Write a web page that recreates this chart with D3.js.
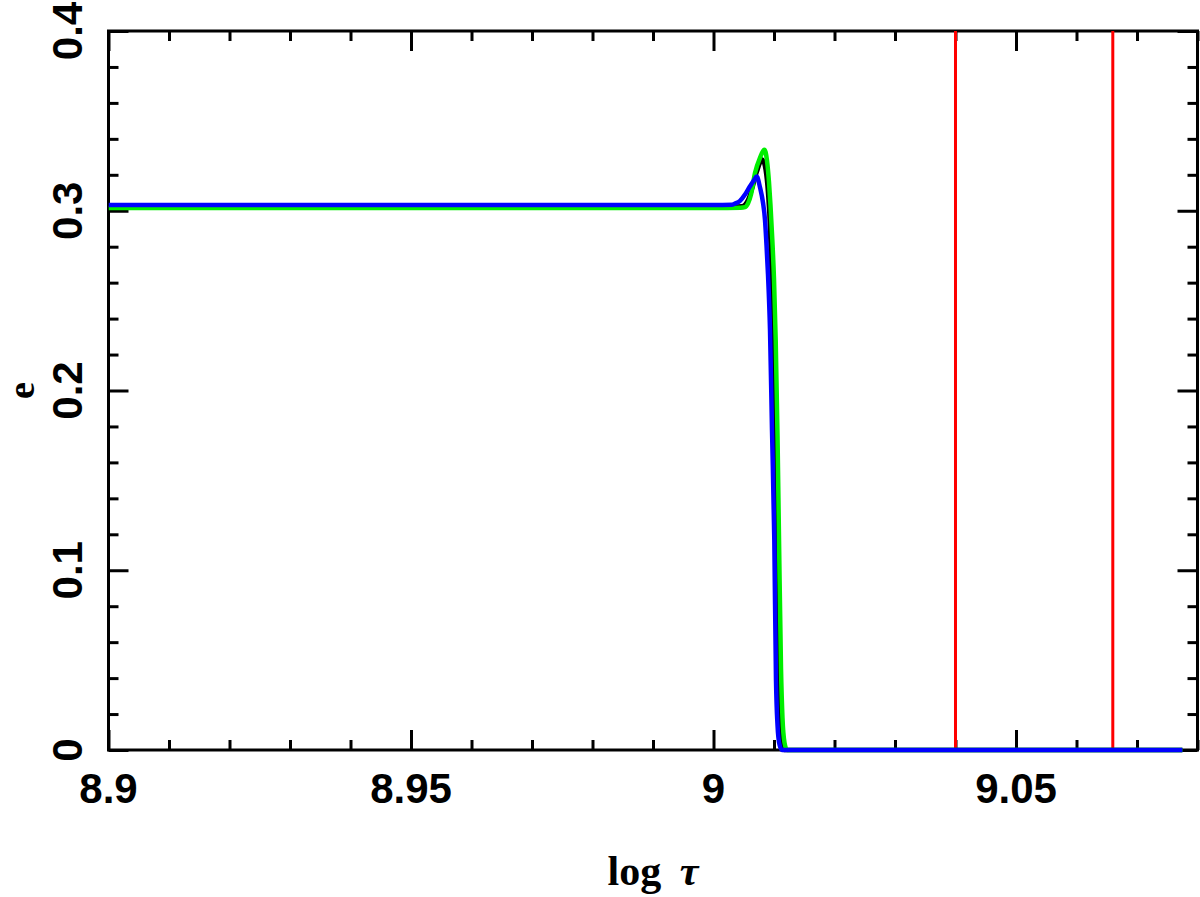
<!DOCTYPE html>
<html><head><meta charset="utf-8">
<script src="https://cdn.jsdelivr.net/npm/d3@7"></script>
<style>body{margin:0;background:#fff}svg{display:block}</style>
</head><body>
<script>
// ---- data ----
const blackX = [8.9, 9.0, 9.0047, 9.0057, 9.00636, 9.00719, 9.00807, 9.0086, 9.00901, 9.00934, 9.00959, 9.00988, 9.01017, 9.01041, 9.01074, 9.01099, 9.01132, 9.01165, 9.0775];
const blackY = [0.302, 0.302, 0.3025, 0.306, 0.312, 0.322, 0.3285, 0.323, 0.310, 0.290, 0.260, 0.228, 0.175, 0.117, 0.045, 0.018, 0.004, 0, 0];
const greenX = [8.9, 9.0, 9.0045, 9.00521, 9.0057, 9.0062, 9.00686, 9.00769, 9.0084, 9.00884, 9.00917, 9.00942, 9.00972, 9.0100, 9.01028, 9.01058, 9.01083, 9.01116, 9.0114, 9.01174, 9.01215, 9.0775];
const greenY = [0.3015, 0.3015, 0.3017, 0.302, 0.304, 0.309, 0.321, 0.3295, 0.334, 0.328, 0.316, 0.303, 0.284, 0.262, 0.228, 0.175, 0.117, 0.045, 0.018, 0.004, 0, 0];
const blueX = [8.9, 9.0, 9.003, 9.00355, 9.00438, 9.00521, 9.00603, 9.00669, 9.00714, 9.00769, 9.00818, 9.00851, 9.00876, 9.00901, 9.00934, 9.00967, 9.01005, 9.01033, 9.01058, 9.01091, 9.01132, 9.0775];
const blueY = [0.3032, 0.3032, 0.3033, 0.304, 0.3055, 0.309, 0.3136, 0.317, 0.319, 0.3129, 0.3045, 0.295, 0.281, 0.2644, 0.2338, 0.178, 0.117, 0.039, 0.014, 0.003, 0, 0];
const redLinesX = [9.040, 9.066];
const xMajorTicks = [8.9, 8.95, 9.0, 9.05];
const xTickLabels = ["8.9", "8.95", "9", "9.05"];
const yMajorTicks = [0, 0.1, 0.2, 0.3, 0.4];
const yTickLabels = ["0", "0.1", "0.2", "0.3", "0.4"];

const W = 1200, H = 897;
const L = 108.5, R = 1197.5, T = 31, B = 750;
const x = d3.scaleLinear().domain([8.9, 9.08]).range([L, R]);
const y = d3.scaleLinear().domain([0, 0.4]).range([B, T]);

const svg = d3.select("body").append("svg").attr("width", W).attr("height", H);
svg.append("defs").append("clipPath").attr("id", "clip")
  .append("rect").attr("x", L).attr("y", T).attr("width", R - L).attr("height", B - T + 4);

const line = d3.line().x(d => x(d[0])).y(d => y(d[1])).curve(d3.curveMonotoneX);
const series = [
  {xs: blackX, ys: blackY, c: "#000000"},
  {xs: greenX, ys: greenY, c: "#00ee00"},
  {xs: blueX, ys: blueY, c: "#0000ff"}
];

// axes with ticks on all sides
const xMinor = d3.range(8.9, 9.0801, 0.01).map(v => +v.toFixed(3)).filter(v => !xMajorTicks.some(m => Math.abs(m - v) < 1e-6));
const yMinor = d3.range(0, 0.4001, 0.02).map(v => +v.toFixed(3)).filter(v => !yMajorTicks.some(m => Math.abs(m - v) < 1e-6));
const fnt = "'Liberation Sans', Arial, sans-serif";
function axis(gen, scale, vals, size, tr) {
  const a = svg.append("g").attr("transform", tr)
    .call(gen(scale).tickValues(vals).tickSize(size).tickSizeOuter(0).tickFormat(""));
  a.select(".domain").remove();
  a.selectAll("line").attr("stroke", "#000").attr("stroke-width", 3);
}
axis(d3.axisBottom, x, xMajorTicks, -20, `translate(0,${B})`);
axis(d3.axisBottom, x, xMinor, -10, `translate(0,${B})`);
axis(d3.axisTop, x, xMajorTicks, -20, `translate(0,${T})`);
axis(d3.axisTop, x, xMinor, -10, `translate(0,${T})`);
axis(d3.axisLeft, y, yMajorTicks, -20, `translate(${L},0)`);
axis(d3.axisLeft, y, yMinor, -10, `translate(${L},0)`);
axis(d3.axisRight, y, yMajorTicks, -20, `translate(${R},0)`);
axis(d3.axisRight, y, yMinor, -10, `translate(${R},0)`);

svg.append("rect").attr("x", L).attr("y", T).attr("width", R - L).attr("height", B - T)
  .attr("fill", "none").attr("stroke", "#000").attr("stroke-width", 3);

// red vertical lines
svg.append("g").selectAll("line").data(redLinesX).enter().append("line")
  .attr("x1", d => x(d)).attr("x2", d => x(d)).attr("y1", y(0)).attr("y2", y(0.4))
  .attr("stroke", "#ff0000").attr("stroke-width", 3);
const g2 = svg.append("g").attr("clip-path", "url(#clip)");
series.forEach(s => {
  g2.append("path").datum(s.xs.map((v, i) => [v, s.ys[i]]))
    .attr("d", line).attr("fill", "none").attr("stroke", s.c)
    .attr("stroke-width", 4.5).attr("stroke-linejoin", "round").attr("stroke-linecap", "butt");
});

// tick labels
svg.selectAll("text.xl").data(xMajorTicks).enter().append("text")
  .attr("x", d => x(d)).attr("y", 803).attr("text-anchor", "middle")
  .attr("font-family", fnt).attr("font-weight", "bold").attr("font-size", 42)
  .text((d, i) => xTickLabels[i]);
svg.selectAll("text.yl").data(yMajorTicks).enter().append("text")
  .attr("transform", d => `translate(82,${y(d)}) rotate(-90)`).attr("text-anchor", "middle")
  .attr("font-family", fnt).attr("font-weight", "bold").attr("font-size", 42)
  .text((d, i) => yTickLabels[i]);

// axis titles
const serif = "'Liberation Serif', 'Times New Roman', serif";
const xt = svg.append("text").attr("x", 653).attr("y", 885).attr("text-anchor", "middle")
  .attr("font-family", serif).attr("font-weight", "bold").attr("font-size", 42);
xt.append("tspan").text("log ");
xt.append("tspan").attr("font-style", "italic").attr("dx", 8).text("τ");
svg.append("text").attr("transform", `translate(34,${(T + B) / 2}) rotate(-90)`).attr("text-anchor", "middle")
  .attr("font-family", serif).attr("font-weight", "bold").attr("font-size", 38).text("e");
</script>
</body></html>
